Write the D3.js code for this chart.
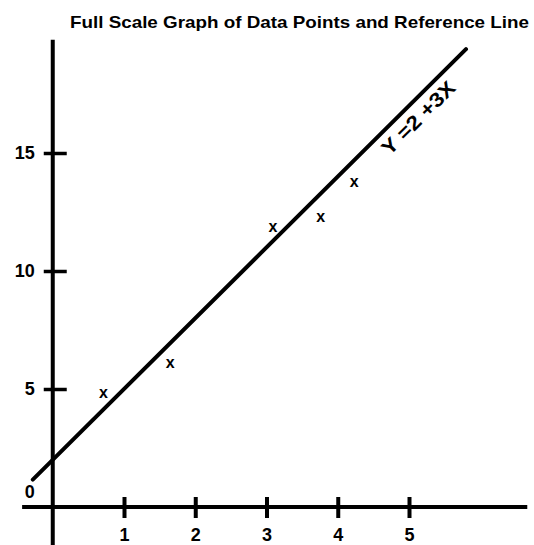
<!DOCTYPE html>
<html>
<head>
<meta charset="utf-8">
<script src="https://cdn.jsdelivr.net/npm/d3@7"></script>
<style>
  html, body { margin: 0; padding: 0; background: #fff; }
  svg { display: block; }
  text { font-family: "Liberation Sans", Arial, Helvetica, sans-serif; fill: #000; }
</style>
</head>
<body>
<div id="chart"></div>
<script>
// ---- data ----
const titleText = "Full Scale Graph of Data Points and Reference Line";
const pointX = [0.71, 1.65, 3.09, 3.76, 4.23];
const pointY = [4.82, 6.11, 11.88, 12.30, 13.78];
const xTicks = [1, 2, 3, 4, 5];
const yTicks = [5, 10, 15];
const lineIntercept = 2;
const lineSlope = 3;
const lineXRange = [-0.28, 5.8];
const lineLabel = "Y =2 +3X";
const lineLabelX = 4.98;

// ---- layout ----
const W = 534, H = 545;
const svg = d3.select("#chart").append("svg").attr("width", W).attr("height", H);

const x = d3.scaleLinear().domain([0, 5]).range([52.75, 409]);
const y = d3.scaleLinear().domain([0, 15]).range([507, 153]);

// title
svg.append("text")
  .attr("x", 70).attr("y", 28)
  .attr("font-size", 17).attr("font-weight", "bold")
  .attr("textLength", 459).attr("lengthAdjust", "spacingAndGlyphs")
  .text(titleText);

// axis lines
svg.append("line")
  .attr("x1", x(-0.43)).attr("x2", x(6.66))
  .attr("y1", y(0)).attr("y2", y(0))
  .attr("stroke", "#000").attr("stroke-width", 4);
svg.append("line")
  .attr("x1", x(0)).attr("x2", x(0))
  .attr("y1", y(19.8)).attr("y2", H)
  .attr("stroke", "#000").attr("stroke-width", 4);

// x axis ticks / labels
const gx = svg.append("g").attr("transform", `translate(0,${y(0)})`)
  .call(d3.axisBottom(x).tickValues(xTicks).tickSize(11).tickPadding(10).tickFormat(d3.format("d")));
gx.select(".domain").remove();
gx.selectAll(".tick line").attr("y1", -10).attr("stroke", "#000").attr("stroke-width", 4);
gx.selectAll(".tick text").attr("font-size", 18).attr("font-weight", "bold")
  .attr("font-family", "Liberation Sans, Arial, sans-serif").attr("fill", "#000");

// y axis ticks / labels
const gy = svg.append("g").attr("transform", `translate(${x(0)},0)`)
  .call(d3.axisLeft(y).tickValues(yTicks).tickSize(9).tickPadding(9).tickFormat(d3.format("d")));
gy.select(".domain").remove();
gy.selectAll(".tick line").attr("x1", 14).attr("stroke", "#000").attr("stroke-width", 3.5);
gy.selectAll(".tick text").attr("font-size", 18).attr("font-weight", "bold")
  .attr("font-family", "Liberation Sans, Arial, sans-serif").attr("fill", "#000");

// origin label
svg.append("text")
  .attr("x", x(0) - 18).attr("y", y(0) - 9)
  .attr("text-anchor", "end")
  .attr("font-size", 18).attr("font-weight", "bold")
  .text("0");

// reference line
const lineFn = d3.line().x(d => x(d)).y(d => y(lineIntercept + lineSlope * d));
svg.append("path")
  .attr("d", lineFn(lineXRange))
  .attr("fill", "none").attr("stroke", "#000").attr("stroke-width", 4)
  .attr("stroke-linecap", "round");

// line label
const lx = x(lineLabelX), ly = y(lineIntercept + lineSlope * lineLabelX);
const ang = Math.atan2(y(lineIntercept + lineSlope * 1) - y(lineIntercept), x(1) - x(0)) * 180 / Math.PI;
svg.append("text")
  .attr("transform", `translate(${lx},${ly}) rotate(${ang})`)
  .attr("x", 0).attr("y", 22)
  .attr("text-anchor", "middle")
  .attr("font-size", 20).attr("font-weight", "bold")
  .attr("textLength", 95).attr("lengthAdjust", "spacingAndGlyphs")
  .text(lineLabel);

// data points as "x" marks
svg.append("g").selectAll("text")
  .data(pointX.map((d, i) => [d, pointY[i]]))
  .join("text")
  .attr("x", d => x(d[0])).attr("y", d => y(d[1]))
  .attr("dy", "0.32em")
  .attr("text-anchor", "middle")
  .attr("font-size", 16).attr("font-weight", "bold")
  .text("x");
</script>
</body>
</html>
